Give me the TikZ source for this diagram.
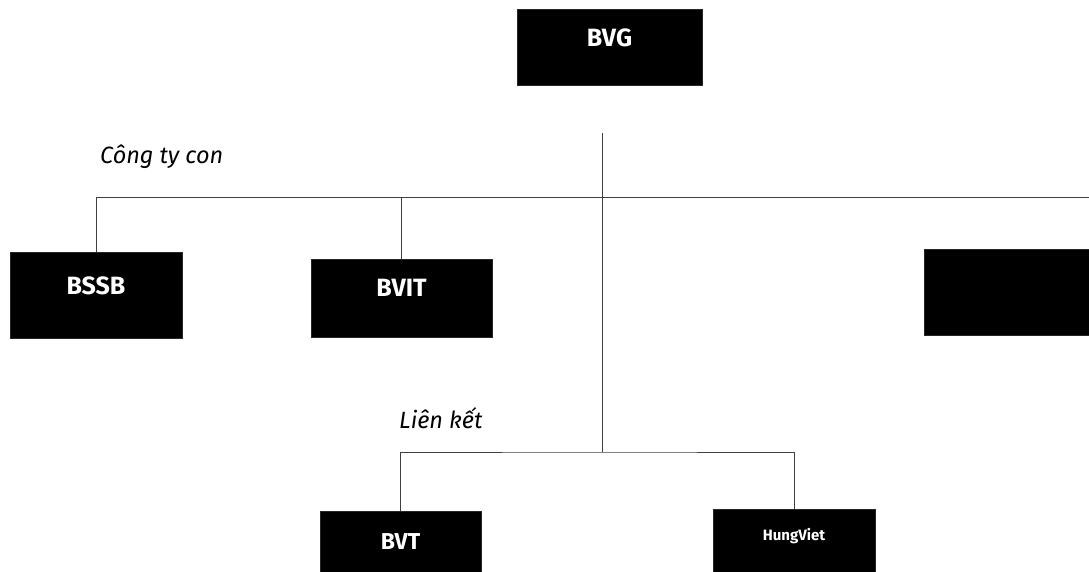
\documentclass[tikz,border=0pt]{standalone}
\usepackage{fontspec}
\setmainfont{Fira Sans}
\begin{document}
\begin{tikzpicture}[x=1pt,y=-1pt,
  orgbox/.style={fill=black, draw=black!85, line width=0.6pt, text=white, inner sep=0pt,
    font=\bfseries\fontsize{25}{25}\selectfont},
  smallbox/.style={orgbox, font=\bfseries\fontsize{15}{15}\selectfont},
  grouplabel/.style={anchor=base west, inner sep=0pt, font=\itshape\fontsize{23.5}{23.5}\selectfont},
  link/.style={draw=black!75, line width=0.9pt}]
\useasboundingbox (0,0) rectangle (1089,571);
\fill[white] (0,0) rectangle (1089,571);
% boxes
\node[orgbox, text depth=18pt, minimum width=185pt, minimum height=76pt] (BVG) at (609.5,47) {BVG};
\node[orgbox, text depth=18pt, minimum width=172pt, minimum height=86pt] (BSSB) at (96,295) {BSSB};
\node[orgbox, text depth=20pt, minimum width=181pt, minimum height=78pt] (BVIT) at (401.5,298) {BVIT};
\node[orgbox, minimum width=166pt, minimum height=86pt] (RB) at (1007,292) {};
\node[orgbox, minimum width=161pt, minimum height=62pt, font=\bfseries\fontsize{23}{23}\selectfont] (BVT) at (400.5,542) {BVT};
\node[smallbox, text depth=14pt, minimum width=162pt, minimum height=64pt] (HV) at (794,541) {HungViet};
% labels
\node[grouplabel] (lab1) at (100,163) {Công ty con};
\node[grouplabel] (lab2) at (399,428) {Liên kết};
% connectors
\coordinate (top) at (602,133);
\coordinate (j1) at (602,197);
\coordinate (j2) at (602,452);
\coordinate (b1R) at (1089,197);
\draw[link] (top) -- (j2);
\draw[link] (b1R) -| (BSSB.north);
\draw[link] (BVIT.north) -- (BVIT.north |- j1);
\draw[link] (BVT.north) |- (j2) -| (HV.north);
\end{tikzpicture}
\end{document}
